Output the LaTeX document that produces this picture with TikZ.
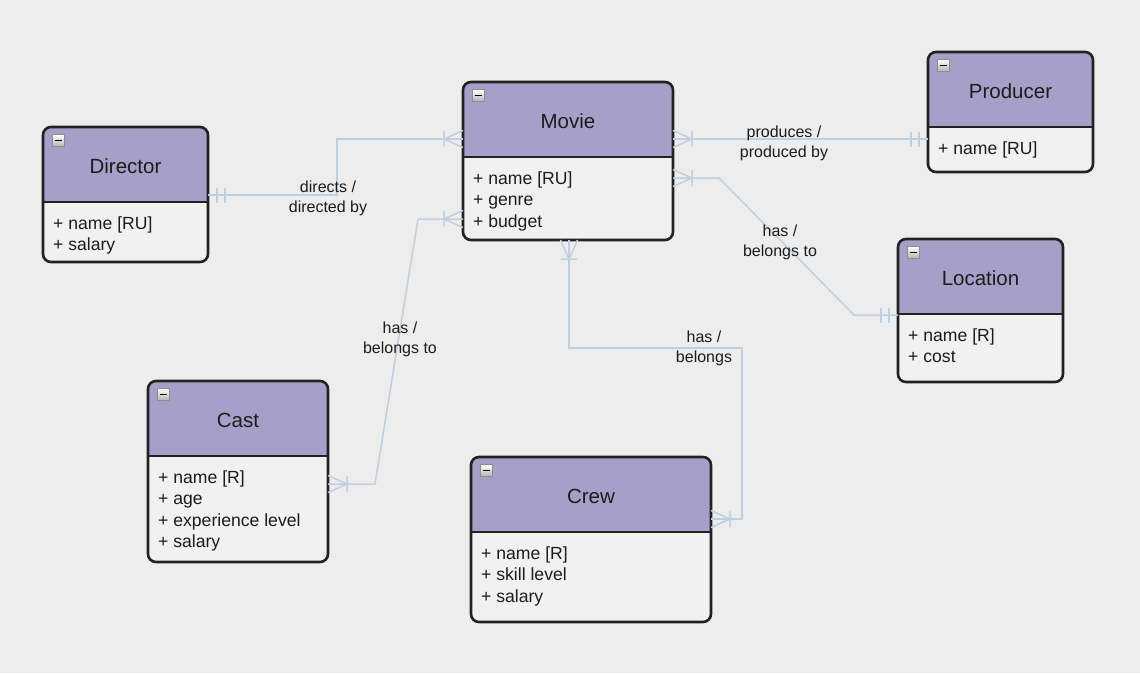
\documentclass[tikz,border=0pt]{standalone}
\usepackage{fontspec}
\setmainfont{Liberation Sans}

\definecolor{bgcol}{HTML}{EDEDED}
\definecolor{headcol}{HTML}{A6A0C9}
\definecolor{bodycol}{HTML}{F1F1F1}
\definecolor{edgecol}{HTML}{222222}
\definecolor{linkcol}{HTML}{BED0E0}
\definecolor{txtcol}{HTML}{1C1C1C}

\pgfdeclarearrow{
  name = ermany,
  setup code = {
    \pgfarrowssettipend{0pt}
    \pgfarrowssetlineend{0pt}
    \pgfarrowssetbackend{-20pt}
    \pgfarrowshullpoint{0pt}{9pt}
    \pgfarrowshullpoint{0pt}{-9pt}
    \pgfarrowshullpoint{-20pt}{9pt}
    \pgfarrowshullpoint{-20pt}{-9pt}
  },
  drawing code = {
    \pgfsetdash{}{0pt}
    \pgfpathmoveto{\pgfqpoint{0pt}{8.5pt}}
    \pgfpathlineto{\pgfqpoint{-19pt}{0pt}}
    \pgfpathlineto{\pgfqpoint{0pt}{-8.5pt}}
    \pgfpathmoveto{\pgfqpoint{-19pt}{8pt}}
    \pgfpathlineto{\pgfqpoint{-19pt}{-8pt}}
    \pgfusepathqstroke
  }
}
\pgfdeclarearrow{
  name = erone,
  setup code = {
    \pgfarrowssettipend{0pt}
    \pgfarrowssetlineend{0pt}
    \pgfarrowssetbackend{-18pt}
    \pgfarrowshullpoint{0pt}{8pt}
    \pgfarrowshullpoint{0pt}{-8pt}
    \pgfarrowshullpoint{-18pt}{8pt}
    \pgfarrowshullpoint{-18pt}{-8pt}
  },
  drawing code = {
    \pgfsetdash{}{0pt}
    \pgfpathmoveto{\pgfqpoint{-9pt}{7.5pt}}
    \pgfpathlineto{\pgfqpoint{-9pt}{-7.5pt}}
    \pgfpathmoveto{\pgfqpoint{-17pt}{7.5pt}}
    \pgfpathlineto{\pgfqpoint{-17pt}{-7.5pt}}
    \pgfusepathqstroke
  }
}

\tikzset{
  entspace/.style={inner sep=0pt, outer sep=0pt, anchor=north west},
  entframe/.style={draw=edgecol, line width=2.6pt, rounded corners=8pt},
  enttitle/.style={font=\fontsize{20.5}{24}\selectfont, text=txtcol, inner sep=0pt},
  entattr/.style={font=\fontsize{17.6}{21.5}\selectfont, text=txtcol, align=left, inner sep=0pt, anchor=north west},
  toggle/.style={minimum size=12pt, inner sep=0pt, draw=black!45, line width=0.8pt, top color=white, bottom color=black!30,
    path picture={\draw[black, line width=1.5pt] ([xshift=2.5pt]path picture bounding box.west) -- ([xshift=-2.5pt]path picture bounding box.east);}},
  erlink/.style={draw=linkcol, line width=1.5pt},
  linklabel/.style={font=\fontsize{16}{20}\selectfont, text=txtcol, align=center, inner sep=0pt}
}

\newcommand{\erentity}[7]{%
  \node[entspace, minimum width=#4, minimum height=#5] (#1) at (#2,#3) {};
  \fill[bodycol, rounded corners=8pt] (#1.north west) rectangle (#1.south east);
  \begin{scope}
    \clip[rounded corners=8pt] (#1.north west) rectangle (#1.south east);
    \fill[headcol] (#1.north west) rectangle ([yshift=-75pt]#1.north east);
  \end{scope}
  \draw[entframe] (#1.north west) rectangle (#1.south east);
  \draw[entframe] ([yshift=-75pt]#1.north west) -- ([yshift=-75pt]#1.north east);
  \node[enttitle] (#1-title) at ([yshift=-39pt]#1.north) {#6};
  \node[toggle] (#1-toggle) at ([xshift=15pt,yshift=-13.5pt]#1.north west) {};
  \node[entattr] (#1-attr) at ([xshift=10pt,yshift=-87pt]#1.north west) {\strut #7};
}

\begin{document}
\begin{tikzpicture}[x=1pt, y=-1pt]
    \fill[bgcol] (0,0) rectangle (1140,673);
    \useasboundingbox (0,0) rectangle (1140,673);

    \erentity{director}{43}{127}{165}{135}{Director}{+ name [RU]\\+ salary}
    \erentity{movie}{463}{82}{210}{158}{Movie}{+ name [RU]\\+ genre\\+ budget}
    \erentity{producer}{928}{52}{165}{120}{Producer}{+ name [RU]}
    \erentity{location}{898}{239}{165}{143}{Location}{+ name [R]\\+ cost}
    \erentity{cast}{148}{381}{180}{181}{Cast}{+ name [R]\\+ age\\+ experience level\\+ salary}
    \erentity{crew}{471}{457}{240}{165}{Crew}{+ name [R]\\+ skill level\\+ salary}

    \coordinate (dm-bend) at (337,167);
    \coordinate (ml-bend1) at (719,178);
    \coordinate (ml-bend2) at (854,315);
    \coordinate (mc-bend) at (742,348);
    \coordinate (ca-bend1) at (418,219);
    \coordinate (ca-bend2) at (375,484);

    \draw[erlink, erone-ermany] ([yshift=-68pt]director.north east) -| (dm-bend) |- ([yshift=-57pt]movie.north west);
    \draw[erlink, ermany-erone] ([yshift=-57pt]movie.north east) -- ([yshift=-87pt]producer.north west);
    \draw[erlink, ermany-erone] ([yshift=-96pt]movie.north east) -- (ml-bend1) -- (ml-bend2) -- ([yshift=-76pt]location.north west);
    \draw[erlink, ermany-ermany] ([yshift=-137pt]movie.north west) -- (ca-bend1) -- (ca-bend2) -- ([yshift=-103pt]cast.north east);
    \draw[erlink, ermany-ermany] ([xshift=106pt]movie.south west) |- (mc-bend) |- ([yshift=-62pt]crew.north east);

    \node[linklabel] (directs) at (328,198) {directs /\\directed by};
    \node[linklabel] (produces) at (784,143) {produces /\\produced by};
    \node[linklabel] (hasloc) at (780,242) {has /\\belongs to};
    \node[linklabel] (hascast) at (400,339) {has /\\belongs to};
    \node[linklabel] (hascrew) at (704,348) {has /\\belongs};
\end{tikzpicture}
\end{document}
